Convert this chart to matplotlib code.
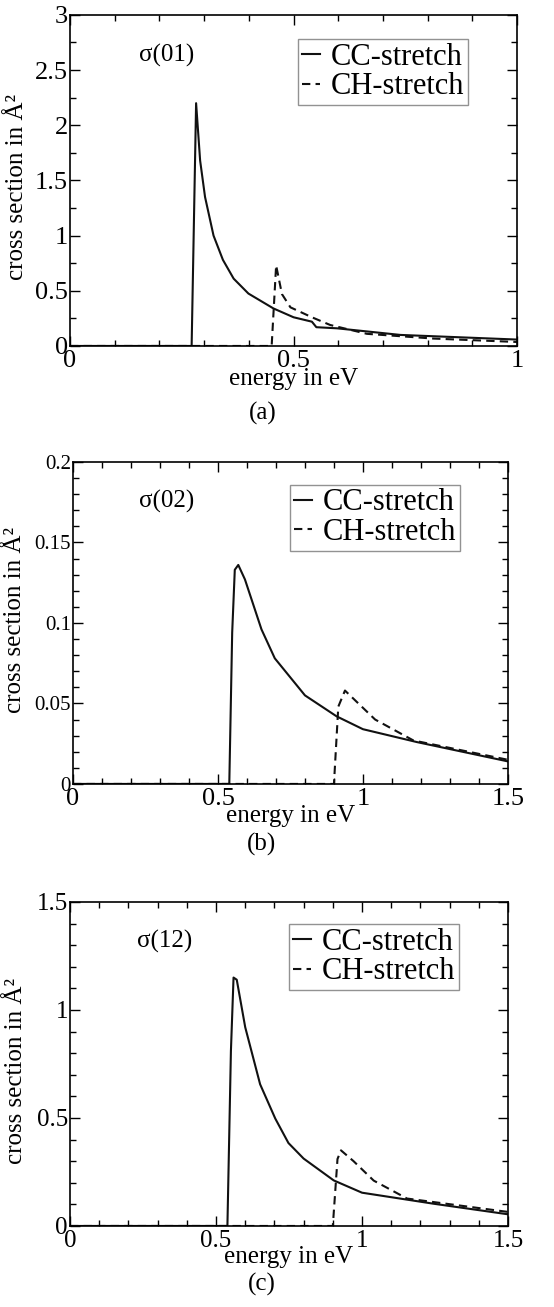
import matplotlib
matplotlib.use("Agg")
import matplotlib.pyplot as plt
from matplotlib.ticker import MultipleLocator, FuncFormatter

plt.rcParams['font.family'] = ['Liberation Serif', 'DejaVu Serif']

# panel (a): sigma(01)
a_cc_x = [0.0, 0.272, 0.282, 0.291, 0.302, 0.321, 0.342, 0.366, 0.399, 0.455, 0.5, 0.541, 0.551, 0.597, 0.739, 1.0]
a_cc_y = [0.0, 0.0, 2.2, 1.68, 1.35, 1.0, 0.78, 0.61, 0.475, 0.34, 0.26, 0.22, 0.17, 0.16, 0.1, 0.058]
a_ch_x = [0.0, 0.451, 0.461, 0.474, 0.493, 0.541, 0.582, 0.664, 0.813, 1.0]
a_ch_y = [0.0, 0.0, 0.73, 0.47, 0.35, 0.26, 0.19, 0.11, 0.067, 0.036]

# panel (b): sigma(02)
b_cc_x = [0.0, 0.539, 0.549, 0.558, 0.570, 0.593, 0.650, 0.696, 0.8, 0.909, 1.0, 1.186, 1.5]
b_cc_y = [0.0, 0.0, 0.094, 0.133, 0.136, 0.127, 0.096, 0.078, 0.055, 0.042, 0.034, 0.026, 0.014]
b_ch_x = [0.0, 0.9, 0.915, 0.938, 1.042, 1.174, 1.5]
b_ch_y = [0.0, 0.0, 0.048, 0.058, 0.040, 0.027, 0.015]

# panel (c): sigma(12)
c_cc_x = [0.0, 0.539, 0.551, 0.56, 0.571, 0.6, 0.651, 0.703, 0.748, 0.8, 0.903, 1.0, 1.245, 1.5]
c_cc_y = [0.0, 0.0, 0.81, 1.15, 1.14, 0.92, 0.656, 0.497, 0.384, 0.312, 0.211, 0.154, 0.103, 0.054]
c_ch_x = [0.0, 0.9, 0.916, 0.928, 0.971, 1.04, 1.154, 1.5]
c_ch_y = [0.0, 0.0, 0.31, 0.35, 0.30, 0.21, 0.127, 0.065]

labels = ['CC-stretch', 'CH-stretch']
sigmas = ['σ(01)', 'σ(02)', 'σ(12)']
captions = ['(a)', '(b)', '(c)']

fmt = FuncFormatter(lambda v, p: '%g' % round(v, 4))

fig = plt.figure(figsize=(5.54, 13.07), dpi=100)

panels = [
    dict(rect=[0.1264, 0.7353, 0.807, 0.2533], cc=(a_cc_x, a_cc_y), ch=(a_ch_x, a_ch_y),
         xlim=1.0, ylim=3.0, xmaj=0.5, xmin=0.1, ymaj=0.5, ymin=0.25, xfs=19, yfs=19,
         legx=0.89, legy=0.927, ylab=(-0.094, 0.48), xlab=-0.1, cap=(0.43, -0.205)),
    dict(rect=[0.1318, 0.4002, 0.785, 0.2464], cc=(b_cc_x, b_cc_y), ch=(b_ch_x, b_ch_y),
         xlim=1.5, ylim=0.2, xmaj=0.5, xmin=0.1, ymaj=0.05, ymin=0.01, xfs=19, yfs=15,
         legx=0.89, legy=0.929, ylab=(-0.108, 0.51), xlab=-0.1, cap=(0.434, -0.188)),
    dict(rect=[0.1264, 0.062, 0.7906, 0.2479], cc=(c_cc_x, c_cc_y), ch=(c_ch_x, c_ch_y),
         xlim=1.5, ylim=1.5, xmaj=0.5, xmin=0.1, ymaj=0.5, ymin=0.1, xfs=18, yfs=18,
         legx=0.888, legy=0.932, ylab=(-0.098, 0.48), xlab=-0.095, cap=(0.438, -0.18)),
]

for i, p in enumerate(panels):
    ax = fig.add_axes(p['rect'])
    ax.plot(p['cc'][0], p['cc'][1], color='#111111', lw=1.5, label=labels[0])
    ax.plot(p['ch'][0], p['ch'][1], color='#111111', lw=1.5, linestyle=(0, (4, 2.5)), label=labels[1])
    ax.set_xlim(0, p['xlim'])
    ax.set_ylim(0, p['ylim'])
    ax.xaxis.set_major_locator(MultipleLocator(p['xmaj']))
    ax.xaxis.set_minor_locator(MultipleLocator(p['xmin']))
    ax.yaxis.set_major_locator(MultipleLocator(p['ymaj']))
    ax.yaxis.set_minor_locator(MultipleLocator(p['ymin']))
    ax.xaxis.set_major_formatter(fmt)
    ax.yaxis.set_major_formatter(fmt)
    ax.tick_params(which='both', direction='in', top=True, right=True, width=1.0)
    ax.tick_params(which='major', length=7)
    ax.tick_params(which='minor', length=4)
    ax.tick_params(axis='x', labelsize=p['xfs'], pad=3)
    ax.tick_params(axis='y', labelsize=p['yfs'], pad=1.5)
    for s in ax.spines.values():
        s.set_linewidth(1.2)
    ax.set_ylabel('cross section in Å²', fontsize=18)
    ax.yaxis.set_label_coords(*p['ylab'])
    ax.text(0.5, p['xlab'], 'energy in eV', fontsize=18, ha='center', va='center', transform=ax.transAxes)
    ax.text(p['cap'][0], p['cap'][1], captions[i], fontsize=18, ha='center', va='center', transform=ax.transAxes)
    ax.text(0.215, 0.878, sigmas[i], fontsize=18, ha='center', va='center', transform=ax.transAxes)
    leg = ax.legend(loc='upper right', bbox_to_anchor=(p['legx'], p['legy']), borderaxespad=0,
                    fontsize=22, handlelength=0.6, handletextpad=0.35, borderpad=0.12,
                    labelspacing=0.02, fancybox=False, frameon=True)
    leg.get_frame().set_edgecolor('#777777')
    leg.get_frame().set_linewidth(1.0)

fig.savefig('out.png', dpi=100)
